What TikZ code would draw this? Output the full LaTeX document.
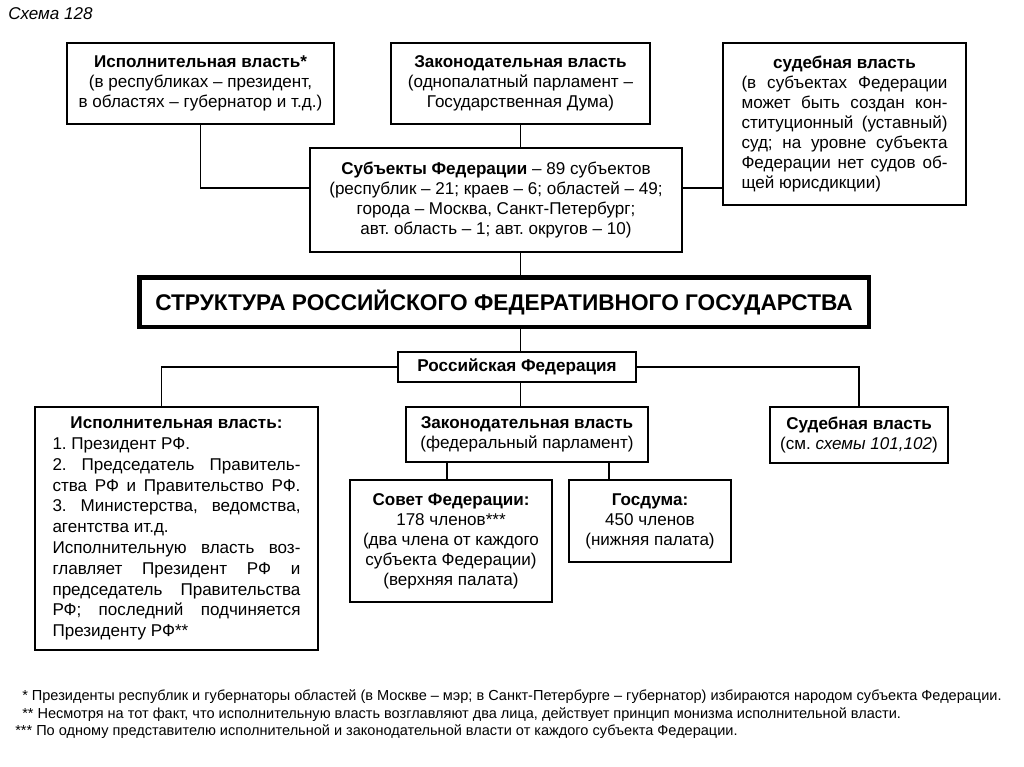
\documentclass[tikz,border=0pt]{standalone}
\usepackage{fontspec}
\setmainfont{Liberation Sans}
\usetikzlibrary{calc}
\newcommand\jl[2]{\makebox[#1][s]{#2}}
\frenchspacing
\begin{document}
\frenchspacing
\begin{tikzpicture}[x=0.75pt,y=-0.75pt,
  box/.style={draw,line width=1.1pt,inner sep=0pt,align=center,fill=white},
  wh/.style 2 args={minimum width=#1*0.75pt,minimum height=#2*0.75pt},
  conn/.style={line width=1.1pt},
  main/.style={font=\fontsize{12.8}{15}\selectfont},
  foot/.style={font=\fontsize{10.9}{12}\selectfont,anchor=west,inner sep=0pt}]
\useasboundingbox[fill=white] (0,0) rectangle (1024,767);

\node[anchor=west,inner sep=0pt,font=\itshape\fontsize{12.8}{14}\selectfont] (cap) at (8,14) {Схема 128};

\node[box,main,wh={267}{81}] (ex1) at (200.5,83.5) {\textbf{Исполнительная власть*}\\(в республиках – президент,\\в областях – губернатор и т.д.)};
\node[box,main,wh={259}{81}] (leg1) at (520.5,83.5) {\textbf{Законодательная власть}\\(однопалатный парламент –\\Государственная Дума)};
\node[box,main,wh={243}{162},align=left] (jud1) at (844.5,124) {\makebox[154.5pt][c]{\textbf{судебная власть}}\\\jl{154.5pt}{(в субъектах Федерации}\\\jl{154.5pt}{может быть создан кон-}\\\jl{154.5pt}{ституционный (уставный)}\\\jl{154.5pt}{суд; на уровне субъекта}\\\jl{154.5pt}{Федерации нет судов об-}\\щей юрисдикции)};
\node[box,main,wh={372}{104}] (subj) at (496,200) {\textbf{Субъекты Федерации} – 89 субъектов\\(республик – 21; краев – 6; областей – 49;\\города – Москва, Санкт-Петербург;\\авт. область – 1; авт. округов – 10)};

\node[box,line width=3pt,wh={730}{50},font=\bfseries\fontsize{17}{19}\selectfont] (title) at (504,302) {СТРУКТУРА РОССИЙСКОГО ФЕДЕРАТИВНОГО ГОСУДАРСТВА};
\draw[line width=0.6pt] ($(title.south west)+(4,-4)$) rectangle ($(title.north east)+(-4,4)$);

\node[box,wh={238}{30},font=\bfseries\fontsize{12.85}{14}\selectfont] (rf) at (517,367) {Российская Федерация};

\node[box,wh={283}{243},align=left,font=\fontsize{12.8}{15.6}\selectfont] (ex2) at (176.5,528.5) {\makebox[186pt][c]{\textbf{Исполнительная власть:}}\\1. Президент РФ.\\\jl{186pt}{2. Председатель Правитель-}\\\jl{186pt}{ства РФ и Правительство РФ.}\\\jl{186pt}{3. Министерства, ведомства,}\\агентства ит.д.\\\jl{186pt}{Исполнительную власть воз-}\\\jl{186pt}{главляет Президент РФ и}\\\jl{186pt}{председатель Правительства}\\\jl{186pt}{РФ; последний подчиняется}\\Президенту РФ**};
\node[box,main,wh={242}{55}] (leg2) at (527,434.5) {\textbf{Законодательная власть}\\(федеральный парламент)};
\node[box,main,wh={178}{56}] (jud2) at (859,435) {\textbf{Судебная власть}\\(см. \textit{схемы 101,102})};
\node[box,main,wh={202}{122}] (sov) at (451,541) {\textbf{Совет Федерации:}\\178 членов***\\(два члена от каждого\\субъекта Федерации)\\(верхняя палата)};
\node[box,main,wh={162}{82}] (gos) at (650,521) {\textbf{Госдума:}\\450 членов\\(нижняя палата)};

\draw[conn] (ex1.south) |- ([yshift=9pt]subj.west);
\draw[conn] ([yshift=9pt]subj.east) -- ([yshift=9pt]subj.east -| jud1.west);
\draw[conn] (leg1.south) -- (leg1.south |- subj.north);
\draw[conn] (subj.south -| leg1.south) -- (title.north -| leg1.south);
\draw[conn] (title.south -| leg1.south) -- (rf.north -| leg1.south);
\draw[conn] (rf.west) -| ([xshift=-11.25pt]ex2.north);
\draw[conn] (rf.east) -| (jud2.north);
\draw[conn] (rf.south -| leg1.south) -- (leg2.north -| leg1.south);
\draw[conn] ([xshift=-3pt]sov.north) -- ([xshift=-3pt]sov.north |- leg2.south);
\draw[conn] ([xshift=-30.75pt]gos.north) -- ([xshift=-30.75pt]gos.north |- leg2.south);

\node[foot] (f1) at (22,697) {* Президенты республик и губернаторы областей (в Москве – мэр; в Санкт-Петербурге – губернатор) избираются народом субъекта Федерации.};
\node[foot] (f2) at (22,715) {** Несмотря на тот факт, что исполнительную власть возглавляют два лица, действует принцип монизма исполнительной власти.};
\node[foot] (f3) at (15,732) {*** По одному представителю исполнительной и законодательной власти от каждого субъекта Федерации.};
\end{tikzpicture}
\end{document}
